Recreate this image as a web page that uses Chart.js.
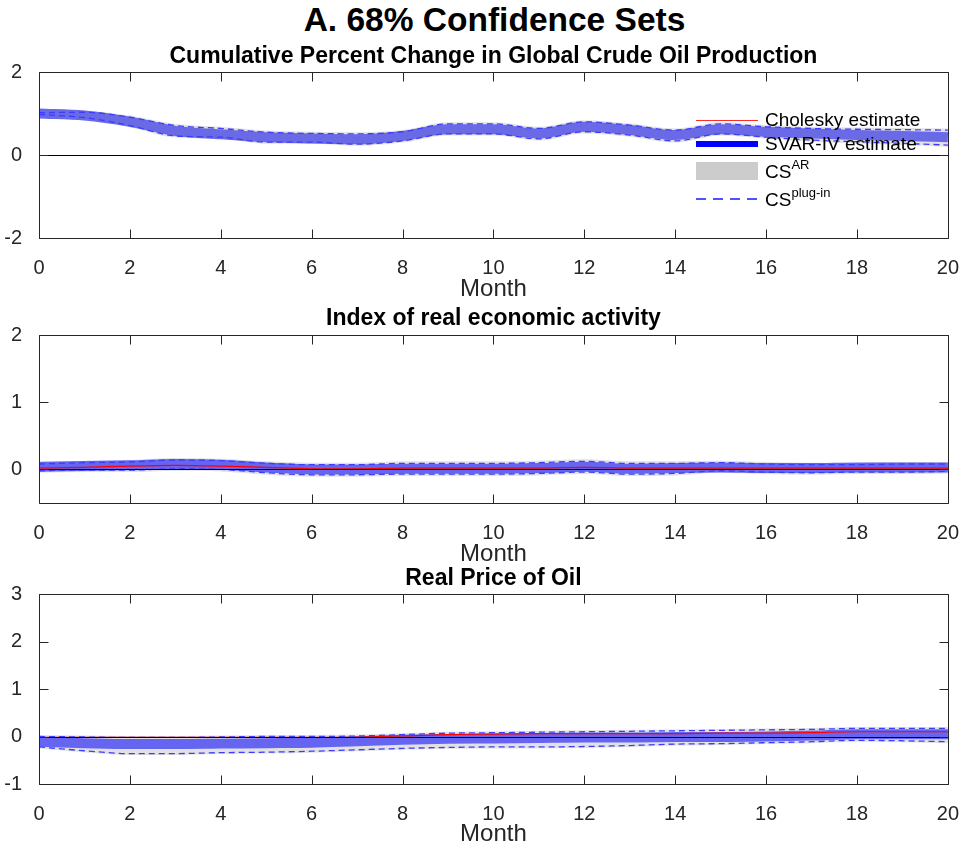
<!DOCTYPE html>
<html>
<head>
<meta charset="utf-8">
<script src="https://cdn.jsdelivr.net/npm/chart.js@4.4.1/dist/chart.umd.min.js"></script>
<style>
  body { margin: 0; background: #fff; }
  #wrap { position: relative; width: 969px; height: 850px; font-family: "Liberation Sans", Arial, Helvetica, sans-serif; }
  #wrap canvas { position: absolute; left: 0; }
  #mainTitle { position: absolute; left: 39px; width: 911px; top: 1px; line-height: 38px; text-align: center; font-weight: bold; font-size: 33.5px; color: #000; }
  .legRow { position: absolute; left: 696px; height: 24px; display: flex; align-items: center; font-size: 19px; color: #000; white-space: nowrap; }
  .legRow .sw { width: 62px; margin-right: 7px; }
  .legRow sup { font-size: 13px; position: relative; top: -2px; }
</style>
</head>
<body>
<div id="wrap">
  <div id="mainTitle">A. 68% Confidence Sets</div>
  <canvas id="prodChart" width="969" height="275" style="top:30px"></canvas>
  <canvas id="actChart" width="969" height="265" style="top:305px"></canvas>
  <canvas id="priceChart" width="969" height="290" style="top:560px"></canvas>

  <div class="legRow" style="top:108px"><div class="sw" style="height:1px;background:#ff2a2a"></div><span>Cholesky estimate</span></div>
  <div class="legRow" style="top:132px"><div class="sw" style="height:6px;background:#0000ff"></div><span>SVAR-IV estimate</span></div>
  <div class="legRow" style="top:159px"><div class="sw" style="height:18px;background:#cccccc"></div><span>CS<sup>AR</sup></span></div>
  <div class="legRow" style="top:187px"><div class="sw" style="height:1.5px;background:repeating-linear-gradient(to right, rgb(80,80,255) 0 10px, transparent 10px 17px)"></div><span>CS<sup>plug-in</sup></span></div>
</div>

<script>
// horizon in months
const months = [0, 1, 2, 3, 4, 5, 6, 7, 8, 9, 10, 11, 12, 13, 14, 15, 16, 17, 18, 19, 20];
const monthTicks = [0, 2, 4, 6, 8, 10, 12, 14, 16, 18, 20];

// Cumulative Percent Change in Global Crude Oil Production
const prodTicks = [-2, 0, 2];
const prodChol = [1.00, 0.95, 0.80, 0.58, 0.51, 0.43, 0.41, 0.38, 0.46, 0.63, 0.63, 0.52, 0.68, 0.60, 0.48, 0.62, 0.56, 0.53, 0.52, 0.53, 0.50];
const prodSvar = [1.00, 0.95, 0.80, 0.58, 0.50, 0.43, 0.40, 0.38, 0.46, 0.62, 0.62, 0.52, 0.68, 0.60, 0.48, 0.62, 0.56, 0.52, 0.48, 0.46, 0.43];
const prodPlugHi = [1.02, 1.03, 0.91, 0.71, 0.64, 0.55, 0.52, 0.51, 0.56, 0.75, 0.75, 0.64, 0.80, 0.72, 0.60, 0.75, 0.68, 0.64, 0.62, 0.61, 0.60];
const prodPlugLo = [0.98, 0.90, 0.71, 0.46, 0.43, 0.31, 0.31, 0.26, 0.34, 0.51, 0.51, 0.39, 0.56, 0.48, 0.34, 0.51, 0.43, 0.36, 0.32, 0.28, 0.24];
const prodArHi = [1.03, 1.06, 0.95, 0.75, 0.68, 0.59, 0.56, 0.55, 0.60, 0.79, 0.79, 0.68, 0.84, 0.76, 0.64, 0.79, 0.72, 0.68, 0.66, 0.65, 0.64];
const prodArLo = [0.97, 0.87, 0.67, 0.42, 0.39, 0.27, 0.27, 0.22, 0.30, 0.47, 0.47, 0.35, 0.52, 0.44, 0.30, 0.47, 0.39, 0.32, 0.28, 0.24, 0.20];

// Index of real economic activity
const actTicks = [0, 1, 2];
const actChol = [0.02, 0.03, 0.05, 0.06, 0.05, 0.03, 0.01, 0.01, 0.02, 0.02, 0.02, 0.02, 0.03, 0.02, 0.02, 0.02, 0.02, 0.02, 0.02, 0.02, 0.02];
const actSvar = [0.04, 0.05, 0.06, 0.08, 0.07, 0.03, 0.00, 0.00, 0.01, 0.01, 0.01, 0.02, 0.04, 0.01, 0.02, 0.03, 0.02, 0.02, 0.03, 0.03, 0.03];
const actPlugHi = [0.08, 0.10, 0.11, 0.14, 0.13, 0.09, 0.07, 0.07, 0.09, 0.09, 0.09, 0.10, 0.12, 0.09, 0.09, 0.10, 0.08, 0.07, 0.07, 0.08, 0.08];
const actPlugLo = [-0.02, -0.01, -0.01, 0.01, 0.00, -0.05, -0.08, -0.08, -0.07, -0.07, -0.07, -0.06, -0.04, -0.07, -0.06, -0.02, -0.04, -0.05, -0.04, -0.04, -0.03];
const actArHi = [0.11, 0.13, 0.14, 0.17, 0.16, 0.12, 0.10, 0.10, 0.12, 0.12, 0.12, 0.13, 0.15, 0.12, 0.12, 0.13, 0.11, 0.10, 0.10, 0.11, 0.11];
const actArLo = [-0.05, -0.04, -0.04, -0.02, -0.03, -0.08, -0.11, -0.11, -0.10, -0.10, -0.10, -0.09, -0.07, -0.10, -0.09, -0.05, -0.07, -0.08, -0.07, -0.07, -0.06];

// Real Price of Oil
const priceTicks = [-1, 0, 1, 2, 3];
const priceChol = [-0.02, -0.02, -0.02, -0.02, -0.02, -0.02, -0.02, -0.01, 0.01, 0.04, 0.05, 0.06, 0.06, 0.06, 0.06, 0.07, 0.07, 0.08, 0.10, 0.10, 0.10];
const priceSvar = [-0.11, -0.14, -0.16, -0.16, -0.15, -0.14, -0.13, -0.10, -0.07, -0.05, -0.04, -0.03, -0.02, -0.02, -0.01, -0.01, 0.00, 0.02, 0.05, 0.05, 0.05];
const pricePlugHi = [0.00, -0.01, -0.02, -0.02, -0.01, 0.00, 0.00, 0.01, 0.04, 0.07, 0.08, 0.09, 0.10, 0.11, 0.12, 0.13, 0.14, 0.15, 0.17, 0.17, 0.17];
const pricePlugLo = [-0.22, -0.30, -0.36, -0.36, -0.34, -0.33, -0.31, -0.28, -0.25, -0.23, -0.22, -0.22, -0.21, -0.19, -0.16, -0.15, -0.13, -0.11, -0.08, -0.09, -0.11];
const priceArHi = [0.03, 0.02, 0.01, 0.01, 0.02, 0.03, 0.03, 0.04, 0.07, 0.10, 0.11, 0.12, 0.13, 0.14, 0.15, 0.16, 0.17, 0.18, 0.20, 0.20, 0.20];
const priceArLo = [-0.25, -0.33, -0.39, -0.39, -0.37, -0.36, -0.34, -0.31, -0.28, -0.26, -0.25, -0.25, -0.24, -0.22, -0.19, -0.18, -0.16, -0.14, -0.11, -0.12, -0.14];

const FONT = '"Liberation Sans", Arial, Helvetica, sans-serif';
const AXIS_COLOR = '#262626';

function pts(arr) {
  return months.map((m, i) => ({ x: m, y: arr[i] }));
}

// MATLAB style box, inward ticks and the zero line
const matlabAxes = {
  id: 'matlabAxes',
  afterDatasetsDraw(chart) {
    const { ctx, chartArea: a, scales: { x, y } } = chart;
    const L = Math.round(a.left) + 0.5, R = Math.round(a.right) + 0.5;
    const T = Math.round(a.top) + 0.5, B = Math.round(a.bottom) + 0.5;
    const tl = 9;
    ctx.save();
    ctx.lineWidth = 1;
    const y0 = Math.round(y.getPixelForValue(0)) + 0.5;
    ctx.strokeStyle = '#000';
    ctx.beginPath();
    ctx.moveTo(L, y0);
    ctx.lineTo(R, y0);
    ctx.stroke();

    ctx.strokeStyle = AXIS_COLOR;
    ctx.beginPath();
    ctx.rect(L, T, R - L, B - T);
    x.ticks.forEach(t => {
      const px = Math.round(x.getPixelForValue(t.value)) + 0.5;
      ctx.moveTo(px, B); ctx.lineTo(px, B - tl);
      ctx.moveTo(px, T); ctx.lineTo(px, T + tl);
    });
    y.ticks.forEach(t => {
      const py = Math.round(y.getPixelForValue(t.value)) + 0.5;
      ctx.moveTo(L, py); ctx.lineTo(L + tl, py);
      ctx.moveTo(R, py); ctx.lineTo(R - tl, py);
    });
    ctx.stroke();
    ctx.restore();
  }
};

function makePanel(id, cfg) {
  return new Chart(document.getElementById(id), {
    type: 'line',
    data: {
      datasets: [
        { label: 'CS plug-in upper', data: pts(cfg.plugHi), order: 0, borderColor: 'rgb(60,60,255)', borderWidth: 1.3, borderDash: [6, 4] },
        { label: 'CS plug-in lower', data: pts(cfg.plugLo), order: 0, borderColor: 'rgb(60,60,255)', borderWidth: 1.3, borderDash: [6, 4] },
        { label: 'Cholesky estimate', data: pts(cfg.chol), order: cfg.cholOnTop ? 1 : 3, borderColor: '#ff0000', borderWidth: 1.2 },
        { label: 'SVAR-IV estimate', data: pts(cfg.svar), order: 2, borderColor: cfg.cholOnTop ? 'rgba(0,0,255,0.55)' : 'rgb(106,106,230)', borderWidth: 10 },
        { label: 'CS AR upper', data: pts(cfg.arHi), order: 4, borderWidth: 0, borderColor: 'rgba(0,0,0,0)', backgroundColor: '#e1e1e1', fill: '+1' },
        { label: 'CS AR lower', data: pts(cfg.arLo), order: 5, borderWidth: 0, borderColor: 'rgba(0,0,0,0)' }
      ]
    },
    options: {
      responsive: false,
      animation: false,
      devicePixelRatio: 1,
      elements: { point: { radius: 0 }, line: { cubicInterpolationMode: 'monotone' } },
      layout: { autoPadding: false, padding: { left: 0, right: 19, top: 0, bottom: 0 } },
      plugins: {
        legend: { display: false },
        tooltip: { enabled: false },
        title: {
          display: true,
          text: cfg.title,
          fullSize: false,
          color: '#000',
          font: { family: FONT, size: 23, weight: 'bold' },
          padding: { top: cfg.titlePad[0], bottom: cfg.titlePad[1] }
        }
      },
      scales: {
        x: {
          type: 'linear',
          min: 0,
          max: 20,
          afterBuildTicks: s => { s.ticks = monthTicks.map(v => ({ value: v })); },
          afterFit: s => { s.height = cfg.xHeight; },
          grid: { display: false },
          border: { display: false },
          ticks: { color: AXIS_COLOR, font: { family: FONT, size: 20 }, padding: 10, maxRotation: 0, autoSkip: false },
          title: { display: true, text: 'Month', color: AXIS_COLOR, font: { family: FONT, size: 24 }, padding: { top: 0, bottom: cfg.monthPad } }
        },
        y: {
          min: cfg.yMin,
          max: cfg.yMax,
          afterBuildTicks: s => { s.ticks = cfg.yTicks.map(v => ({ value: v })); },
          afterFit: s => { s.width = 39; },
          grid: { display: false },
          border: { display: false },
          ticks: { color: AXIS_COLOR, font: { family: FONT, size: 20 }, padding: 9 }
        }
      }
    },
    plugins: [matlabAxes]
  });
}

makePanel('prodChart', {
  title: 'Cumulative Percent Change in Global Crude Oil Production',
  titlePad: [13.2, 1.2], xHeight: 67, monthPad: 1.2, cholOnTop: false,
  yMin: -2, yMax: 2, yTicks: prodTicks,
  chol: prodChol, svar: prodSvar, plugHi: prodPlugHi, plugLo: prodPlugLo, arHi: prodArHi, arLo: prodArLo
});

makePanel('actChart', {
  title: 'Index of real economic activity',
  titlePad: [0.2, 2.2], xHeight: 67, monthPad: 1.6, cholOnTop: true,
  yMin: -0.5, yMax: 2, yTicks: actTicks,
  chol: actChol, svar: actSvar, plugHi: actPlugHi, plugLo: actPlugLo, arHi: actArHi, arLo: actArLo
});

makePanel('priceChart', {
  title: 'Real Price of Oil',
  titlePad: [5.2, 1.2], xHeight: 66, monthPad: 1.6, cholOnTop: true,
  yMin: -1, yMax: 3, yTicks: priceTicks,
  chol: priceChol, svar: priceSvar, plugHi: pricePlugHi, plugLo: pricePlugLo, arHi: priceArHi, arLo: priceArLo
});
</script>
</body>
</html>
